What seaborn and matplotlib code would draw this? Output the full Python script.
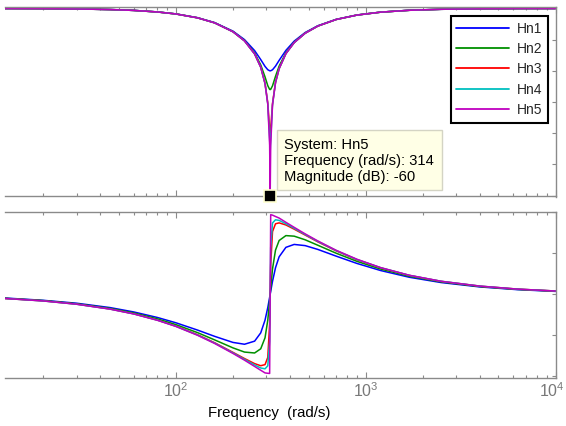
import numpy as np
import pandas as pd
import matplotlib
matplotlib.use("Agg")
import matplotlib.pyplot as plt
import matplotlib.transforms as mtransforms
import seaborn as sns
from matplotlib.ticker import LogLocator, NullFormatter, FixedLocator
from matplotlib.patches import Rectangle

# ---------------- data ----------------
systems = ["Hn1", "Hn2", "Hn3", "Hn4", "Hn5"]
colors = ["#0000FF", "#009000", "#FF0000", "#00BFBF", "#BF00BF"]

freq = [12.6, 20, 30, 45, 60, 80, 100, 130, 160, 200, 230, 260, 280, 295, 305, 312,
        314, 316, 323, 335, 350, 380, 420, 480, 560, 700, 900, 1200, 1700, 2500,
        4000, 6300, 10000]

mag_hn1 = [-0.03, -0.07, -0.16, -0.35, -0.63, -1.12, -1.75, -2.96, -4.53, -7.28, -10.00,
           -13.52, -16.40, -18.59, -19.65, -19.98, -20.00, -19.98, -19.67, -18.50, -16.66,
           -13.45, -10.49, -7.72, -5.54, -3.49, -2.10, -1.18, -0.58, -0.27, -0.10, -0.04, -0.02]
mag_hn2 = [-0.03, -0.07, -0.16, -0.36, -0.63, -1.13, -1.76, -3.00, -4.60, -7.43, -10.30,
           -14.29, -18.10, -21.95, -24.76, -25.95, -26.02, -25.95, -24.82, -21.76, -18.49,
           -14.21, -10.84, -7.89, -5.63, -3.53, -2.12, -1.19, -0.59, -0.27, -0.11, -0.04, -0.02]
mag_hn3 = [-0.03, -0.07, -0.16, -0.36, -0.63, -1.13, -1.77, -3.01, -4.62, -7.48, -10.41,
           -14.57, -18.82, -24.00, -30.25, -38.51, -40.00, -38.53, -30.47, -23.69, -19.31,
           -14.48, -10.97, -7.94, -5.65, -3.54, -2.12, -1.19, -0.59, -0.27, -0.11, -0.04, -0.02]
mag_hn4 = [-0.03, -0.07, -0.16, -0.36, -0.63, -1.13, -1.77, -3.01, -4.62, -7.48, -10.41,
           -14.59, -18.84, -24.08, -30.61, -41.80, -46.00, -41.84, -30.85, -23.77, -19.32,
           -14.49, -10.97, -7.95, -5.65, -3.54, -2.13, -1.19, -0.59, -0.27, -0.11, -0.04, -0.02]
mag_hn5 = [-0.03, -0.07, -0.16, -0.36, -0.63, -1.13, -1.77, -3.01, -4.62, -7.48, -10.41,
           -14.59, -18.85, -24.10, -30.73, -43.88, -60.00, -43.94, -30.98, -23.79, -19.32,
           -14.49, -10.97, -7.95, -5.65, -3.54, -2.13, -1.19, -0.59, -0.27, -0.11, -0.04, -0.02]

ph_hn1 = [-4.1, -6.6, -9.8, -14.6, -19.4, -25.5, -31.3, -39.3, -46.2, -52.9, -54.9, -51.5,
          -42.4, -28.4, -14.6, -3.3, 0.0, 3.3, 14.2, 29.2, 41.2, 51.6, 54.8, 53.5, 49.3,
          41.9, 33.9, 26.1, 18.7, 12.9, 8.1, 5.1, 3.2]
ph_hn2 = [-4.4, -6.9, -10.4, -15.5, -20.5, -27.0, -33.3, -42.1, -50.1, -58.9, -63.5, -64.5,
          -59.9, -47.8, -28.5, -6.9, 0.0, 6.9, 27.9, 48.6, 59.1, 64.5, 63.9, 59.9, 53.9,
          45.1, 36.2, 27.7, 19.8, 13.6, 8.5, 5.4, 3.4]
ph_hn3 = [-4.6, -7.2, -10.8, -16.1, -21.4, -28.3, -34.9, -44.4, -53.2, -63.8, -70.6, -76.2,
          -78.5, -77.3, -69.4, -32.2, 0.0, 32.1, 68.9, 77.5, 78.5, 76.2, 71.6, 65.1, 57.6,
          47.7, 38.0, 29.0, 20.7, 14.2, 8.9, 5.7, 3.6]
ph_hn4 = [-4.6, -7.3, -10.9, -16.2, -21.5, -28.4, -35.1, -44.7, -53.6, -64.4, -71.5, -77.7,
          -81.0, -81.9, -78.6, -51.6, 0.0, 51.4, 78.4, 81.9, 81.2, 77.6, 72.6, 65.7, 58.1,
          48.0, 38.2, 29.2, 20.8, 14.3, 9.0, 5.7, 3.6]
ph_hn5 = [-4.6, -7.3, -10.9, -16.3, -21.6, -28.6, -35.3, -45.0, -54.0, -65.0, -72.4, -79.3,
          -83.5, -86.4, -86.8, -87.0, 0.0, 87.5, 87.0, 85.5, 83.8, 79.1, 73.6, 66.4, 58.6,
          48.3, 38.5, 29.3, 20.9, 14.3, 9.0, 5.7, 3.6]

mags = [mag_hn1, mag_hn2, mag_hn3, mag_hn4, mag_hn5]
phases = [ph_hn1, ph_hn2, ph_hn3, ph_hn4, ph_hn5]

tip_index = 16  # data tip on Hn5 at 314 rad/s

rows = []
for s, m, p in zip(systems, mags, phases):
    for f, mv, pv in zip(freq, m, p):
        rows.append({"freq": f, "mag": mv, "phase": pv, "system": s})
df = pd.DataFrame(rows)

# ---------------- style ----------------
sns.set_theme(style="white")
plt.rcParams["font.family"] = ["Liberation Sans", "DejaVu Sans"]
plt.rcParams["mathtext.fontset"] = "custom"
plt.rcParams["mathtext.rm"] = "Liberation Sans"
plt.rcParams["mathtext.it"] = "Liberation Sans"

W, H = 566, 426
fig = plt.figure(figsize=(W / 100, H / 100), dpi=100)
fig.patch.set_facecolor("white")


def rect(l, t, r, b):
    return [l / W, 1 - b / H, (r - l) / W, (b - t) / H]


ax1 = fig.add_axes(rect(5, 7.5, 555.5, 196.5))
ax2 = fig.add_axes(rect(5, 211.5, 555.5, 378))

sns.lineplot(data=df, x="freq", y="mag", hue="system", hue_order=systems,
             palette=colors, estimator=None, sort=False, linewidth=1.1, ax=ax1)
sns.lineplot(data=df, x="freq", y="phase", hue="system", hue_order=systems,
             palette=colors, estimator=None, sort=False, linewidth=1.1, ax=ax2,
             legend=False)

grey = "#8a8a8a"
for ax in (ax1, ax2):
    ax.set_xscale("log")
    ax.set_xlim(12.59, 1e4)
    ax.xaxis.set_major_locator(LogLocator(base=10, numticks=10))
    ax.xaxis.set_minor_locator(LogLocator(base=10, subs=np.arange(2, 10), numticks=40))
    ax.xaxis.set_minor_formatter(NullFormatter())
    ax.tick_params(axis="x", which="both", direction="in", top=True, bottom=True,
                   color=grey, labelcolor="#787878", labelsize=11.5, pad=2.5)
    ax.tick_params(axis="x", which="major", length=4, width=0.8)
    ax.tick_params(axis="x", which="minor", length=2.5, width=0.8)
    ax.tick_params(axis="y", which="major", direction="in", left=False, right=True,
                   labelleft=False, labelright=False, length=3, width=0.8, color=grey)
    ax.spines["left"].set_visible(False)
    for sp in ("right", "top", "bottom"):
        ax.spines[sp].set_color(grey)
        ax.spines[sp].set_linewidth(1.0)
    ax.set_ylabel("")
    ax.set_facecolor("white")

ax1.set_xlabel("")
ax1.tick_params(axis="x", which="both", labelbottom=False)
ax1.set_ylim(-60.3, 0.3)
ax1.yaxis.set_major_locator(FixedLocator(np.arange(-60, 1, 10)))
ax2.set_ylim(-92, 91)
ax2.yaxis.set_major_locator(FixedLocator([-90, -45, 0, 45, 90]))

ax2.set_xlabel("Frequency  (rad/s)", fontsize=10.8, color="black")
ax2.xaxis.set_label_coords(0.48, -0.168)

# legend
leg = ax1.get_legend()
handles = leg.legend_handles
labels = [t.get_text() for t in leg.get_texts()]
leg.remove()
new_leg = ax1.legend(handles, labels, loc="upper right",
                     bbox_to_anchor=(548 / W, 1 - 16 / H), bbox_transform=fig.transFigure,
                     frameon=True, fancybox=False, edgecolor="black", facecolor="white",
                     framealpha=1, fontsize=10, handlelength=3.8, handletextpad=0.55,
                     labelspacing=0.46, borderpad=0.4, borderaxespad=0)
new_leg.get_frame().set_linewidth(1.5)
for h in new_leg.legend_handles:
    h.set_linewidth(1.3)

# data tip
tip_f = freq[tip_index]
tip_m = mag_hn5[tip_index]
ax1.plot([tip_f], [tip_m], marker="s", ms=8, mfc="black", mec="#FFFFD0", mew=1.2,
         clip_on=False, zorder=10, ls="none")
fig.patches.append(Rectangle((277 / W, 1 - 190 / H), 165 / W, 60 / H,
                             transform=fig.transFigure, facecolor="#FFFFE6",
                             edgecolor="#D4D4C4", linewidth=1.0, zorder=5))
tip_lines = ["System: Hn5",
             f"Frequency (rad/s): {tip_f:g}",
             f"Magnitude (dB): {tip_m:g}"]
for i, t in enumerate(tip_lines):
    fig.text(284 / W, 1 - (145 + 16 * i) / H, t, fontsize=10.6, color="black",
             ha="left", va="center", zorder=6)

# keep the right-most tick label (10^4) inside the picture, as in the reference
fig.canvas.draw()
shift = mtransforms.ScaledTranslation(-4 / 100, 0, fig.dpi_scale_trans)
for tick in ax2.xaxis.get_major_ticks():
    if abs(tick.get_loc() - 1e4) < 1:
        tick.label1.set_transform(tick.label1.get_transform() + shift)

fig.savefig("out.png", dpi=100)
